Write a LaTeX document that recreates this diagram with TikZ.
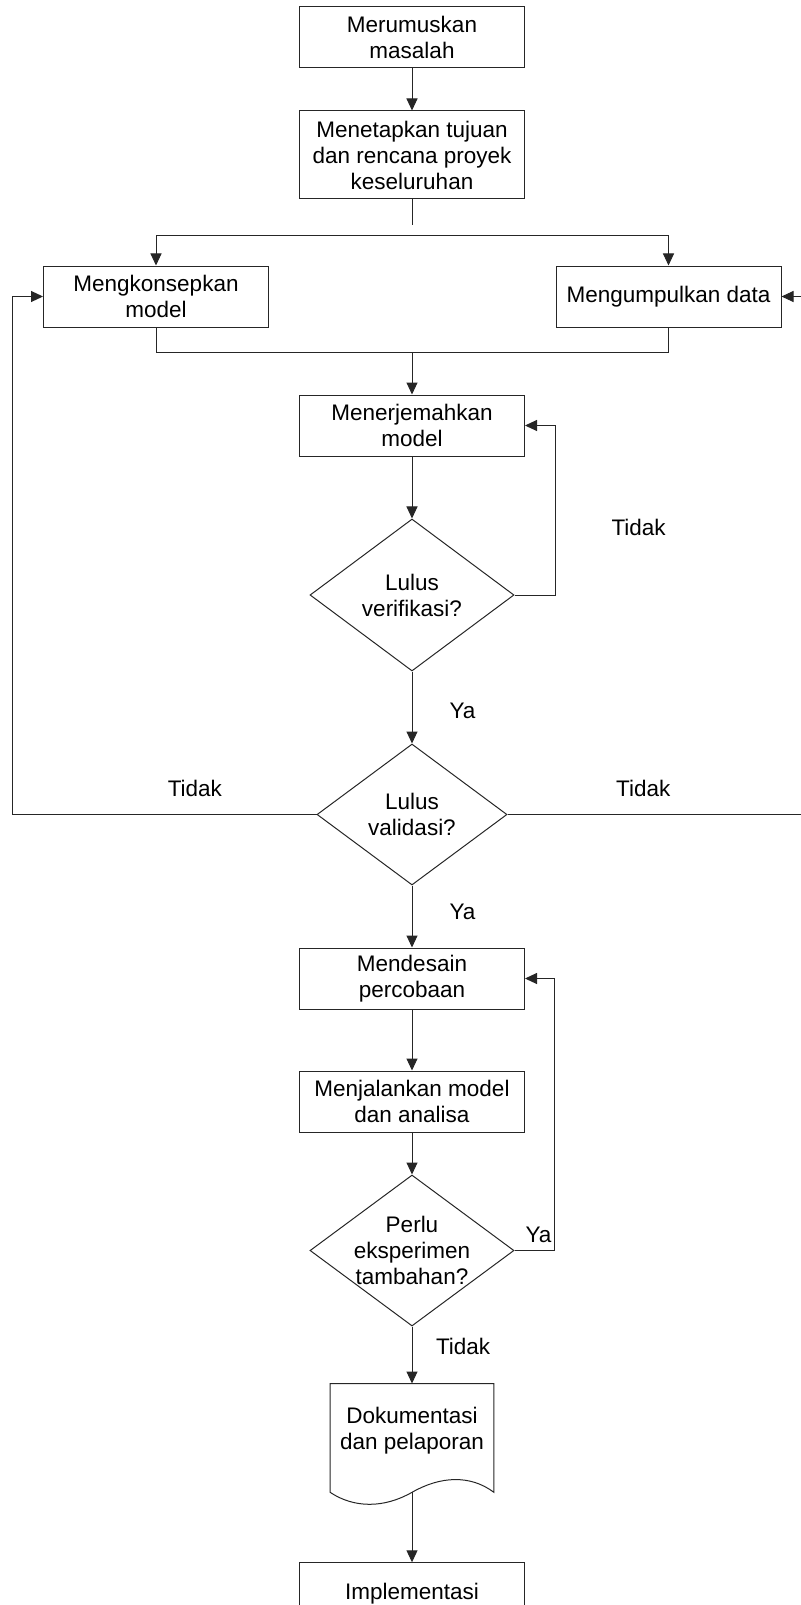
\documentclass[tikz,border=0pt]{standalone}
\usepackage{fontspec}
\setmainfont{Liberation Sans}
\usepackage{tikz}
\usetikzlibrary{
  arrows.meta,
  positioning,
  shapes.geometric
}

\begin{document}
\begin{tikzpicture}[
  x=0.5pt, y=-0.5pt,
  every node/.style={font=\fontsize{11.25pt}{13pt}\selectfont},
  garis/.style={draw=black!85, line width=0.5pt},
  kotak/.style={rectangle, garis, minimum width=112.5pt, minimum height=30.5pt, inner sep=0pt, align=center},
  keputusan/.style={diamond, garis, inner sep=0pt},
  panah/.style={-{Triangle[length=6pt, width=5.5pt]}, garis},
  lbl/.style={inner sep=0pt},
]

\useasboundingbox (0,0) rectangle (800,1605);

\node[kotak] (rumus) at (412,37.5) {Merumuskan\\masalah};
\node[kotak, minimum height=44pt, below=21pt of rumus] (tetap) {Menetapkan tujuan\\dan rencana proyek\\keseluruhan};
\node[kotak] (konsep) at (156,296.5) {Mengkonsepkan\\model};
\node[kotak] (data) at (668.5,296.5) {Mengumpulkan data};
\node[kotak, below=97.5pt of tetap] (terjemah) {Menerjemahkan\\model};
\node[keputusan, minimum width=102pt, minimum height=76pt, below=31pt of terjemah,
  label={[align=center]center:Lulus\\verifikasi?}] (verif) {};
\node[keputusan, minimum width=95pt, minimum height=70.5pt, below=36pt of verif,
  label={[align=center]center:Lulus\\validasi?}] (valid) {};
\node[kotak, below=31pt of valid] (desain) {Mendesain\\percobaan};
\node[kotak, below=30.5pt of desain] (jalankan) {Menjalankan model\\dan analisa};
\node[keputusan, minimum width=102pt, minimum height=75.5pt, below=21pt of jalankan,
  label={[align=center]center:Perlu\\eksperimen\\tambahan?}] (perlu) {};
\node[minimum width=81.5pt, minimum height=47pt, inner sep=0pt, align=center, below=28.5pt of perlu] (dok) {Dokumentasi\\dan pelaporan};
\coordinate (ombak) at ([yshift=-7pt]dok.south);
\node[kotak, below=35pt of ombak] (impl) {Implementasi};

% bentuk dokumen
\draw[garis] (dok.north west) -- (dok.north east) -- ([yshift=-7pt]dok.south east)
  .. controls +(-24,-18) and +(28,-16) .. (ombak)
  .. controls +(-28,16) and +(24,16) .. ([yshift=-7pt]dok.south west) -- cycle;

\coordinate (putus) at (412,225);
\coordinate (cabang) at (412,236);
\coordinate (gabung) at (412,352);

\draw[panah] (rumus) -- (tetap);
\draw[garis] (tetap) -- (putus);
\draw[panah] (cabang) -| (konsep);
\draw[panah] (cabang) -| (data);
\draw[garis] (konsep) |- (gabung);
\draw[garis] (data) |- (gabung);
\draw[panah] (gabung) -- (terjemah);
\draw[panah] (terjemah) -- (verif);
\draw[panah] (verif.east) -- ++(41,0) |- node[lbl, pos=0.2, right=27.75pt] {Tidak} (terjemah.east);
\draw[panah] (verif) -- node[lbl, pos=0.55, right=18.5pt] {Ya} (valid);
\draw[panah] (valid.west) -- node[lbl, pos=0.4, above=8.5pt] {Tidak} ++(-304,0) |- (konsep.west);
\draw[panah] (valid.east) -- node[lbl, pos=0.46, above=8.5pt] {Tidak} ++(295,0) |- (data.east);
\draw[panah] (valid) -- node[lbl, pos=0.42, right=18.5pt] {Ya} (desain);
\draw[panah] (desain) -- (jalankan);
\draw[panah] (jalankan) -- (perlu);
\draw[panah] (perlu.east) -- node[lbl, pos=0.6, above=3.5pt] {Ya} ++(40,0) |- (desain.east);
\draw[panah] (perlu) -- node[lbl, pos=0.35, right=11.75pt] {Tidak} (dok);
\draw[panah] (ombak) -- (impl);

\end{tikzpicture}
\end{document}
